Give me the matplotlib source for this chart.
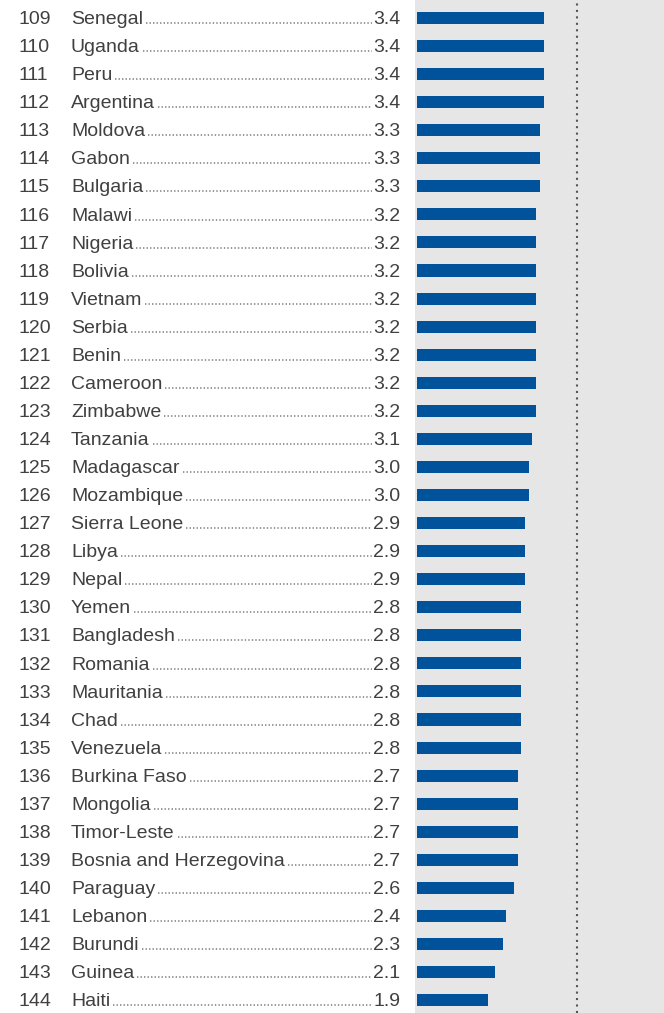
import matplotlib
matplotlib.use("Agg")
import matplotlib.pyplot as plt
from matplotlib.lines import Line2D
from matplotlib.transforms import blended_transform_factory, IdentityTransform

ranks = list(range(109, 145))
countries = [
    "Senegal", "Uganda", "Peru", "Argentina", "Moldova", "Gabon", "Bulgaria",
    "Malawi", "Nigeria", "Bolivia", "Vietnam", "Serbia", "Benin", "Cameroon",
    "Zimbabwe", "Tanzania", "Madagascar", "Mozambique", "Sierra Leone", "Libya",
    "Nepal", "Yemen", "Bangladesh", "Romania", "Mauritania", "Chad", "Venezuela",
    "Burkina Faso", "Mongolia", "Timor-Leste", "Bosnia and Herzegovina",
    "Paraguay", "Lebanon", "Burundi", "Guinea", "Haiti",
]
scores = [
    3.4, 3.4, 3.4, 3.4, 3.3, 3.3, 3.3,
    3.2, 3.2, 3.2, 3.2, 3.2, 3.2, 3.2,
    3.2, 3.1, 3.0, 3.0, 2.9, 2.9,
    2.9, 2.8, 2.8, 2.8, 2.8, 2.8, 2.8,
    2.7, 2.7, 2.7, 2.7,
    2.6, 2.4, 2.3, 2.1, 1.9,
]
ref_line = 4.3

W, H = 664, 1013
fig = plt.figure(figsize=(W / 100, H / 100), dpi=100)
ax = fig.add_axes([415 / W, 0, 1 - 415 / W, 1])
ax.set_facecolor("#e6e6e6")
for s in ax.spines.values():
    s.set_visible(False)
ax.set_xticks([])
ax.set_yticks([])

n = len(countries)
ypos = list(range(n))
ax.barh(ypos, scores, height=0.43, color="#00529b", left=0)
ax.axvline(ref_line, color="#555555", lw=1.5, linestyle=(0, (1, 2.1)),
           dash_capstyle="butt")
ax.set_xlim(-0.05, (W - 415) / 37.3 - 0.05)
ax.set_ylim(35.46, -0.64)

font = dict(family="Liberation Sans", fontsize=14, color="#404040")
tr = blended_transform_factory(fig.transFigure, ax.transData)
fig.canvas.draw()
renderer = fig.canvas.get_renderer()

for i, (rk, name, val) in enumerate(zip(ranks, countries, scores)):
    yb = i + 0.22
    fig.text(18 / W, yb, str(rk), ha="left", va="baseline", transform=tr, **font)
    t_name = fig.text(71 / W, yb, name, ha="left", va="baseline", transform=tr, **font)
    t_val = fig.text(400 / W, yb, f"{val:.1f}", ha="right", va="baseline",
                     transform=tr, **font)
    b1 = t_name.get_window_extent(renderer)
    b2 = t_val.get_window_extent(renderer)
    ydisp = ax.transData.transform((0, yb))[1] + 1
    line = Line2D([b1.x1 + 3, b2.x0 - 1], [ydisp, ydisp], transform=IdentityTransform(),
                  color="#7a7a7a", lw=1.1, linestyle=(0, (0.9, 1.4)),
                  dash_capstyle="butt")
    fig.add_artist(line)

fig.savefig("out.png", dpi=100, facecolor="white")
